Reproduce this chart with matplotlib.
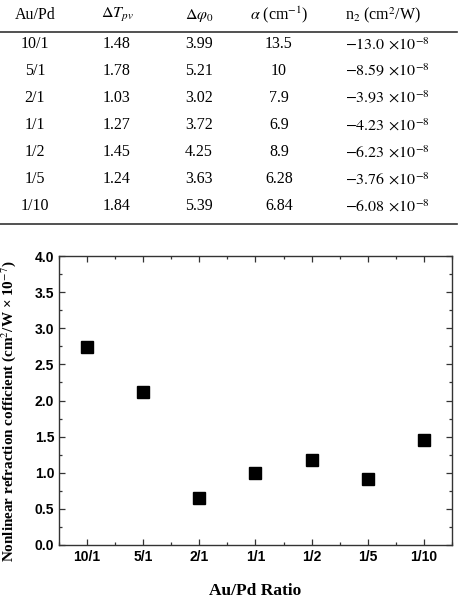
import matplotlib
matplotlib.use("Agg")
import matplotlib.pyplot as plt
from matplotlib.lines import Line2D
from matplotlib.ticker import MultipleLocator

ratios = ["10/1", "5/1", "2/1", "1/1", "1/2", "1/5", "1/10"]
dT_pv = ["1.48", "1.78", "1.03", "1.27", "1.45", "1.24", "1.84"]
dphi0 = ["3.99", "5.21", "3.02", "3.72", "4.25", "3.63", "5.39"]
alpha = ["13.5", "10", "7.9", "6.9", "8.9", "6.28", "6.84"]
n2_mant = ["13.0", "8.59", "3.93", "4.23", "6.23", "3.76", "6.08"]
coef = [2.74, 2.12, 0.65, 1.00, 1.17, 0.91, 1.46]

W, H = 464, 600
fig = plt.figure(figsize=(W / 100, H / 100), dpi=100)
plt.rcParams["mathtext.fontset"] = "stix"

serif = "Liberation Serif"
sans = "Liberation Sans"

def fy(py):
    return 1 - py / H

def fx(px):
    return px / W

# ---- table ----
col_x = [35, 117, 199, 279, 383]
headers = ["Au/Pd", r"$\Delta T_{pv}$", r"$\Delta\varphi_0$",
           r"$\alpha$ (cm$^{-1}$)", r"n$_2$ (cm$^2$/W)"]
for x, h in zip(col_x, headers):
    fig.text(fx(x), fy(15), h, ha="center", va="center",
             fontsize=11.5, family=serif)

for y in (32, 224):
    fig.add_artist(Line2D([0, fx(457)], [fy(y), fy(y)], color="#333333",
                          lw=1.2, transform=fig.transFigure))

for i in range(len(ratios)):
    yy = fy(44 + 27 * i)
    fig.text(fx(col_x[0]), yy, ratios[i], ha="center", va="center", fontsize=11.5, family=serif)
    fig.text(fx(col_x[1]), yy, dT_pv[i], ha="center", va="center", fontsize=11.5, family=serif)
    fig.text(fx(col_x[2]), yy, dphi0[i], ha="center", va="center", fontsize=11.5, family=serif)
    fig.text(fx(col_x[3]), yy, alpha[i], ha="center", va="center", fontsize=11.5, family=serif)
    fig.text(fx(387), yy, r"$\mathrm{-" + n2_mant[i] + r"}\,\times\!10^{-8}$",
             ha="center", va="center", fontsize=11.5)

# ---- chart ----
ax = fig.add_axes([fx(59), fy(545), fx(452) - fx(59), (545 - 256) / H])
x = list(range(len(ratios)))
ax.plot(x, coef, linestyle="none", marker="s", ms=8, color="black")
ax.set_xlim(-0.5, 6.5)
ax.set_ylim(0, 4.0)
ax.set_xticks(x)
ax.set_xticklabels(ratios)
ax.yaxis.set_major_locator(MultipleLocator(0.5))
ax.yaxis.set_minor_locator(MultipleLocator(0.25))
ax.xaxis.set_minor_locator(MultipleLocator(0.5))
ax.set_yticklabels([f"{v:.1f}" for v in ax.get_yticks()])
ax.tick_params(which="both", direction="in", top=True, right=True,
               width=0.9, color="#333333")
ax.tick_params(which="major", length=4.5)
ax.tick_params(which="minor", length=2.5)
for lab in ax.get_xticklabels() + ax.get_yticklabels():
    lab.set_family(sans)
    lab.set_fontweight("bold")
    lab.set_fontsize(10)
for sp in ax.spines.values():
    sp.set_color("#333333")
    sp.set_linewidth(1.0)

ax.set_xlabel("Au/Pd Ratio", family=serif, fontweight="bold", fontsize=12.5, labelpad=14)
ax.set_ylabel(r"Nonlinear refraction cofficient (cm$^{2}$/W × 10$^{-7}$)",
              family=serif, fontweight="bold", fontsize=10.9)
ax.yaxis.set_label_coords(-0.105, 0.464)

fig.savefig("out.png", dpi=100)
